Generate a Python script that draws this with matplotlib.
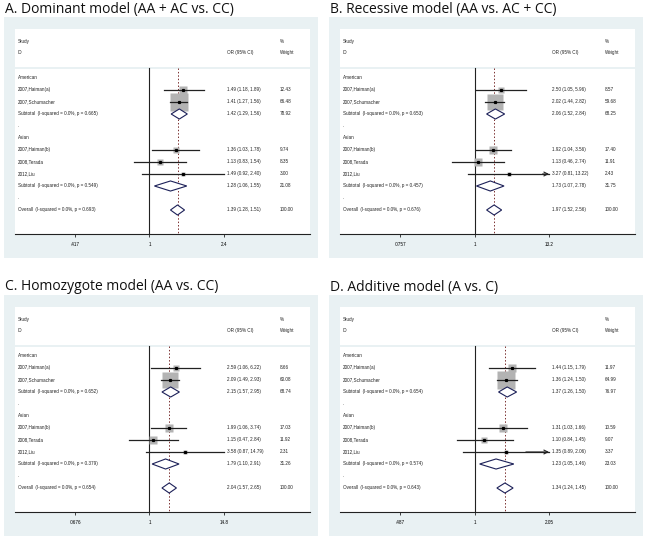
import numpy as np
import matplotlib
matplotlib.use('Agg')
import matplotlib.pyplot as plt
from matplotlib.patches import Rectangle, Polygon
from matplotlib.transforms import blended_transform_factory
from matplotlib.ticker import NullLocator

W, H = 650, 540

american_ids = ["2007,Haiman(a)", "2007,Schumacher"]
asian_ids = ["2007,Haiman(b)", "2008,Terada", "2012,Liu"]
group_names = ["American", "Asian"]

# ---- Panel A: Dominant model
a_title = "A. Dominant model (AA + AC vs. CC)"
a_or = [1.49, 1.41, 1.36, 1.13, 1.49]
a_lo = [1.18, 1.27, 1.03, 0.83, 0.92]
a_hi = [1.89, 1.56, 1.78, 1.54, 2.40]
a_wt = [12.43, 66.48, 9.74, 8.35, 3.00]
a_sub_or = [1.42, 1.28]
a_sub_lo = [1.29, 1.06]
a_sub_hi = [1.56, 1.55]
a_sub_wt = [78.92, 21.08]
a_sub_p = ["0.665", "0.549"]
a_all = [1.39, 1.28, 1.51]
a_all_p = "0.693"
a_ticks = [0.417, 1, 2.4]
a_ticklabels = [".417", "1", "2.4"]

# ---- Panel B: Recessive model
b_title = "B. Recessive model (AA vs. AC + CC)"
b_or = [2.50, 2.02, 1.92, 1.13, 3.27]
b_lo = [1.05, 1.44, 1.04, 0.46, 0.81]
b_hi = [5.96, 2.82, 3.56, 2.74, 13.22]
b_wt = [8.57, 59.68, 17.40, 11.91, 2.43]
b_sub_or = [2.06, 1.73]
b_sub_lo = [1.52, 1.07]
b_sub_hi = [2.84, 2.78]
b_sub_wt = [68.25, 31.75]
b_sub_p = ["0.653", "0.457"]
b_all = [1.97, 1.52, 2.56]
b_all_p = "0.676"
b_ticks = [0.0757, 1, 13.2]
b_ticklabels = [".0757", "1", "13.2"]

# ---- Panel C: Homozygote model
c_title = "C. Homozygote model (AA vs. CC)"
c_or = [2.59, 2.09, 1.99, 1.15, 3.58]
c_lo = [1.06, 1.49, 1.06, 0.47, 0.87]
c_hi = [6.22, 2.93, 3.74, 2.84, 14.79]
c_wt = [8.66, 60.08, 17.03, 11.92, 2.31]
c_sub_or = [2.15, 1.79]
c_sub_lo = [1.57, 1.10]
c_sub_hi = [2.95, 2.91]
c_sub_wt = [68.74, 31.26]
c_sub_p = ["0.652", "0.379"]
c_all = [2.04, 1.57, 2.65]
c_all_p = "0.654"
c_ticks = [0.0676, 1, 14.8]
c_ticklabels = [".0676", "1", "14.8"]

# ---- Panel D: Additive model
d_title = "D. Additive model (A vs. C)"
d_or = [1.44, 1.36, 1.31, 1.10, 1.35]
d_lo = [1.15, 1.24, 1.03, 0.84, 0.89]
d_hi = [1.79, 1.50, 1.66, 1.45, 2.06]
d_wt = [11.97, 64.99, 10.59, 9.07, 3.37]
d_sub_or = [1.37, 1.23]
d_sub_lo = [1.26, 1.05]
d_sub_hi = [1.50, 1.46]
d_sub_wt = [76.97, 23.03]
d_sub_p = ["0.654", "0.574"]
d_all = [1.34, 1.24, 1.45]
d_all_p = "0.643"
d_ticks = [0.487, 1, 2.05]
d_ticklabels = [".487", "1", "2.05"]

BG = "#e9f1f3"
NAVY = "#1c2058"
REFC = "#7a3030"
TXT = "Liberation Sans"
FS = 3.3

fig = plt.figure(figsize=(W / 100, H / 100), dpi=100)
fig.patch.set_facecolor("white")


def fr(x, y, w, h):
    return [x / W, 1 - (y + h) / H, w / W, h / H]


def panel(ox, oy, title, ors, los, his, wts, sor, slo, shi, swt, sp, allv, allp, ticks, tlabels):
    fig.text((ox + 5) / W, 1 - (oy + 9) / H, title, fontsize=10, family="Open Sans",
             va="center", ha="left", color="#111111")
    fig.add_artist(Rectangle(fr(ox + 4, oy + 17, 314, 241)[:2], 314 / W, 241 / H,
                             transform=fig.transFigure, fc=BG, ec="none", zorder=-5))
    ax = fig.add_axes(fr(ox + 15, oy + 29, 295, 205))
    ax.set_facecolor("white")
    ax.set_xscale("log")
    f_lo, f_hi = 60 / 295, 209 / 295
    lnlo, lnhi = np.log(ticks[0]), np.log(ticks[-1])
    bb = (f_hi - f_lo) / (lnhi - lnlo)
    aa = f_lo - bb * lnlo
    ax.set_xlim(np.exp(-aa / bb), np.exp((1 - aa) / bb))
    ax.set_ylim(13.0, -4.083)
    for s in ["top", "left", "right"]:
        ax.spines[s].set_visible(False)
    ax.spines["bottom"].set_color("#222222")
    ax.spines["bottom"].set_linewidth(0.8)
    ax.set_yticks([])
    ax.xaxis.set_minor_locator(NullLocator())
    ax.set_xticks(ticks)
    ax.set_xticklabels(tlabels, fontsize=FS, family=TXT)
    ax.tick_params(axis="x", length=2.5, width=0.6, pad=3, color="#222222")

    tr = blended_transform_factory(ax.transAxes, ax.transData)
    xl, xor_, xw = 0.01, 0.719, 0.898
    kw = dict(fontsize=FS, family=TXT, va="center", ha="left", transform=tr, color="#222222")

    # header
    ax.axhline(-0.83, color=BG, lw=1.4)
    ax.text(xl, -3.0, "Study", **kw)
    ax.text(xl, -2.1, "ID", **kw)
    ax.text(xor_, -2.1, "OR (95% CI)", **kw)
    ax.text(xw, -3.0, "%", **kw)
    ax.text(xw, -2.1, "Weight", **kw)

    # reference lines
    ax.plot([1, 1], [-0.83, 13.0], color="#222222", lw=0.8, zorder=2)
    ax.plot([allv[0], allv[0]], [-0.83, 13.0], color=REFC, lw=0.7, ls=(0, (1.5, 2.0)), zorder=2)

    ids = american_ids + asian_ids
    rows = [1, 2, 6, 7, 8]
    tmax = ticks[-1]
    for i, r in enumerate(rows):
        o, lo, hi, w = ors[i], los[i], his[i], wts[i]
        ax.plot(o, r, marker="s", ms=1.55 * np.sqrt(w), mfc="#b3b3b3", mec="none", zorder=3)
        if hi > tmax:
            ax.plot([lo, tmax], [r, r], color="#222222", lw=0.9, zorder=4)
            ax.annotate("", xy=(tmax, r), xytext=(tmax * 0.8, r),
                        arrowprops=dict(arrowstyle="->", lw=0.8, color="#222222",
                                        shrinkA=0, shrinkB=0, mutation_scale=7), zorder=4)
        else:
            ax.plot([lo, hi], [r, r], color="#222222", lw=0.9, zorder=4)
        ax.plot(o, r, marker="s", ms=1.3, mfc="k", mec="k", zorder=5)
        ax.text(xl, r, ids[i], **kw)
        ax.text(xor_, r, "%.2f (%.2f, %.2f)" % (o, lo, hi), **kw)
        ax.text(xw, r, "%.2f" % w, **kw)

    for g, (gr, sr) in enumerate([(0, 3), (5, 9)]):
        ax.text(xl, gr, group_names[g], **kw)
        ax.text(xl, sr, "Subtotal  (I-squared = 0.0%%, p = %s)" % sp[g], **kw)
        ax.text(xor_, sr, "%.2f (%.2f, %.2f)" % (sor[g], slo[g], shi[g]), **kw)
        ax.text(xw, sr, "%.2f" % swt[g], **kw)
        ax.add_patch(Polygon([(slo[g], sr), (sor[g], sr - 0.42), (shi[g], sr), (sor[g], sr + 0.42)],
                             closed=True, fc="white", ec=NAVY, lw=0.8, zorder=3))
    for r in [4, 10]:
        ax.text(xl, r, ".", **kw)
    ax.text(xl, 11, "Overall  (I-squared = 0.0%%, p = %s)" % allp, **kw)
    ax.text(xor_, 11, "%.2f (%.2f, %.2f)" % tuple(allv), **kw)
    ax.text(xw, 11, "100.00", **kw)
    ax.add_patch(Polygon([(allv[1], 11), (allv[0], 10.58), (allv[2], 11), (allv[0], 11.42)],
                         closed=True, fc="white", ec=NAVY, lw=0.8, zorder=3))


panel(0, 0, a_title, a_or, a_lo, a_hi, a_wt, a_sub_or, a_sub_lo, a_sub_hi, a_sub_wt, a_sub_p,
      a_all, a_all_p, a_ticks, a_ticklabels)
panel(325, 0, b_title, b_or, b_lo, b_hi, b_wt, b_sub_or, b_sub_lo, b_sub_hi, b_sub_wt, b_sub_p,
      b_all, b_all_p, b_ticks, b_ticklabels)
panel(0, 278, c_title, c_or, c_lo, c_hi, c_wt, c_sub_or, c_sub_lo, c_sub_hi, c_sub_wt, c_sub_p,
      c_all, c_all_p, c_ticks, c_ticklabels)
panel(325, 278, d_title, d_or, d_lo, d_hi, d_wt, d_sub_or, d_sub_lo, d_sub_hi, d_sub_wt, d_sub_p,
      d_all, d_all_p, d_ticks, d_ticklabels)

fig.savefig("out.png", dpi=100, facecolor="white")
